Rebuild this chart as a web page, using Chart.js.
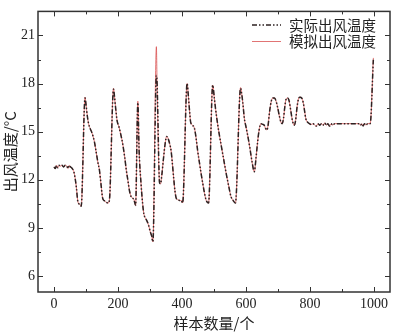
<!DOCTYPE html>
<html lang="zh">
<head>
    <meta charset="UTF-8">
    <title>出风温度对比</title>
    <script src="https://cdn.jsdelivr.net/npm/chart.js"></script>
    <style>
        html, body {
            margin: 0;
            padding: 0;
            background: #fff;
        }
        #chart {
            display: block;
        }
    </style>
</head>
<body>

    <canvas id="chart" width="393" height="333"></canvas>

    <script>
        // 样本序号
        const sampleNo = [
            0, 4, 8, 12, 16, 20, 25, 30, 35, 40, 44, 48, 52, 57, 62, 66, 70, 74, 78, 82, 85,
            97, 100, 104, 108, 113, 119, 126, 132, 137, 142, 147, 152, 157, 163, 169, 173,
            186, 189, 193, 197, 203, 209, 215, 221, 226, 231, 236, 241, 246, 250, 255,
            262, 266, 272, 277, 281, 286, 290, 295, 301, 305, 309,
            320, 322, 330, 333, 337, 342, 347, 352, 357, 362, 366, 370, 374, 378, 382, 388, 394, 398, 402,
            416, 420, 424, 427, 433, 439, 444, 449, 455, 460, 465, 470, 475, 479, 483,
            496, 501, 505, 509, 515, 522, 530, 538, 546, 553, 560, 567,
            583, 587, 590, 595, 600, 605, 612, 619, 626, 631, 636, 641, 647, 652, 657, 661, 665,
            669, 674, 679, 684, 689, 694, 699, 704, 709, 713, 717, 721, 725, 730, 735, 740, 745,
            751, 755, 760, 765, 769, 774, 779, 783, 787, 792, 798,
            804, 810, 815, 820, 825, 830, 836, 841, 846, 851, 856, 861, 866, 871, 877,
            885, 895, 905, 915, 925, 935, 945, 953, 958, 962, 966, 970, 975, 980, 988, 998
        ];

        // 实际出风温度
        const actualTemp = [
            12.8, 12.7, 12.9, 12.75, 12.9, 12.85, 12.9, 12.8, 12.9, 12.85, 12.7, 12.9, 12.8, 12.7, 12.5, 12.1, 11.5, 10.7, 10.5, 10.45, 10.35,
            17.1, 16.7, 16.0, 15.5, 15.2, 14.9, 14.4, 13.7, 13.1, 12.6, 11.7, 10.85, 10.7, 10.6, 10.55, 10.7,
            17.65, 17.2, 16.4, 15.7, 15.3, 14.8, 14.2, 13.4, 12.6, 11.95, 11.3, 10.95, 10.85, 10.75, 10.4,
            16.8, 13.8, 11.75, 10.5, 9.85, 9.6, 9.45, 9.2, 8.75, 8.5, 8.13,
            18.5, 18.1, 11.8, 11.75, 12.3, 13.3, 14.2, 14.7, 14.55, 14.2, 13.8, 13.0, 12.1, 11.3, 10.85, 10.75, 10.7, 10.7, 10.55,
            18.0, 17.2, 16.2, 15.6, 15.4, 15.2, 14.6, 13.8, 13.0, 12.35, 11.76, 11.2, 10.75, 10.6, 10.55,
            17.9, 17.1, 16.4, 15.8, 15.0, 14.2, 13.3, 12.4, 11.6, 10.95, 10.7, 10.55,
            17.7, 17.3, 16.8, 15.8, 15.3, 14.8, 14.0, 13.1, 12.5, 13.3, 14.3, 15.1, 15.5, 15.45, 15.4, 15.2, 15.1,
            15.4, 16.3, 16.9, 17.1, 17.1, 16.9, 16.5, 16.0, 15.6, 15.5, 15.8, 16.5, 17.0, 17.1, 16.9, 16.3, 15.7,
            15.4, 15.7, 16.6, 17.1, 17.15, 17.1, 16.8, 16.3, 15.8, 15.6, 15.5,
            15.45, 15.5, 15.4, 15.35, 15.5, 15.4, 15.5, 15.4, 15.55, 15.4, 15.5, 15.35, 15.5, 15.4, 15.5,
            15.5, 15.5, 15.5, 15.5, 15.5, 15.5, 15.5, 15.5, 15.4, 15.5, 15.35, 15.5, 15.4, 15.5, 15.5, 19.5
        ];

        // 模拟出风温度
        const simTemp = [
            12.8, 12.7, 12.9, 12.75, 12.9, 12.85, 12.9, 12.8, 12.9, 12.85, 12.7, 12.9, 12.8, 12.7, 12.5, 12.1, 11.5, 10.7, 10.5, 10.45, 10.35,
            17.15, 16.7, 16.0, 15.5, 15.2, 14.9, 14.4, 13.7, 13.1, 12.6, 11.7, 10.85, 10.7, 10.6, 10.55, 10.7,
            17.7, 17.2, 16.4, 15.7, 15.3, 14.8, 14.2, 13.4, 12.6, 11.95, 11.3, 10.95, 10.85, 10.75, 10.4,
            16.9, 13.8, 11.75, 10.5, 9.85, 9.6, 9.45, 9.2, 8.75, 8.5, 8.13,
            20.3, 18.1, 11.8, 11.75, 12.3, 13.3, 14.2, 14.7, 14.55, 14.2, 13.8, 13.0, 12.1, 11.3, 10.85, 10.75, 10.7, 10.7, 10.55,
            18.0, 17.2, 16.2, 15.6, 15.4, 15.2, 14.6, 13.8, 13.0, 12.35, 11.76, 11.2, 10.75, 10.6, 10.55,
            17.9, 17.1, 16.4, 15.8, 15.0, 14.2, 13.3, 12.4, 11.6, 10.95, 10.7, 10.55,
            17.75, 17.3, 16.8, 15.8, 15.3, 14.8, 14.0, 13.1, 12.5, 13.3, 14.3, 15.1, 15.5, 15.45, 15.4, 15.2, 15.1,
            15.4, 16.3, 16.9, 17.1, 17.1, 16.9, 16.5, 16.0, 15.6, 15.5, 15.8, 16.5, 17.0, 17.1, 16.9, 16.3, 15.7,
            15.4, 15.7, 16.6, 17.1, 17.15, 17.1, 16.8, 16.3, 15.8, 15.6, 15.5,
            15.45, 15.5, 15.4, 15.35, 15.5, 15.4, 15.5, 15.4, 15.55, 15.4, 15.5, 15.35, 15.5, 15.4, 15.5,
            15.5, 15.5, 15.5, 15.5, 15.5, 15.5, 15.5, 15.5, 15.4, 15.5, 15.35, 15.5, 15.4, 15.5, 15.5, 19.6
        ];

        // 刻度
        const xMajor = [0, 200, 400, 600, 800, 1000];
        const xMinor = [100, 300, 500, 700, 900];
        const yMajor = [6, 9, 12, 15, 18, 21];
        const yMinor = [7.5, 10.5, 13.5, 16.5, 19.5];

        const labelFont = '"Times New Roman", "Liberation Serif", serif';
        const cjkFont = '"Noto Sans CJK SC", "Liberation Serif", sans-serif';
        const axisColor = '#333';

        // 边框 + 内向刻度 + 图例
        const framePlugin = {
            id: 'frame',
            afterDraw(chart) {
                const ctx = chart.ctx;
                const a = chart.chartArea;
                const xs = chart.scales.x, ys = chart.scales.y;
                ctx.save();
                ctx.strokeStyle = axisColor;
                ctx.lineWidth = 1.5;
                ctx.strokeRect(a.left, a.top, a.right - a.left, a.bottom - a.top);

                ctx.lineWidth = 1;
                ctx.beginPath();
                const tickX = (vals, len) => vals.forEach(v => {
                    const px = Math.round(xs.getPixelForValue(v)) + 0.5;
                    ctx.moveTo(px, a.bottom); ctx.lineTo(px, a.bottom - len);
                    ctx.moveTo(px, a.top); ctx.lineTo(px, a.top + len);
                });
                const tickY = (vals, len) => vals.forEach(v => {
                    const py = Math.round(ys.getPixelForValue(v)) + 0.5;
                    ctx.moveTo(a.left, py); ctx.lineTo(a.left + len, py);
                    ctx.moveTo(a.right, py); ctx.lineTo(a.right - len, py);
                });
                tickX(xMajor, 5); tickX(xMinor, 3);
                tickY(yMajor, 5); tickY(yMinor, 3);
                ctx.stroke();

                // 图例
                const rows = [25, 41.5];
                chart.data.datasets.forEach((ds, i) => {
                    const y = rows[i];
                    ctx.beginPath();
                    ctx.strokeStyle = ds.borderColor;
                    ctx.lineWidth = ds.borderWidth;
                    ctx.setLineDash(ds.borderDash || []);
                    ctx.moveTo(252, y); ctx.lineTo(281, y);
                    ctx.stroke();
                    ctx.setLineDash([]);
                    ctx.fillStyle = '#222';
                    ctx.font = '14.5px ' + cjkFont;
                    ctx.textBaseline = 'middle';
                    ctx.fillText(ds.label, 289, y);
                });
                ctx.restore();
            }
        };

        const toPoints = vals => sampleNo.map((x, i) => ({ x: x, y: vals[i] }));

        new Chart(document.getElementById('chart').getContext('2d'), {
            type: 'line',
            data: {
                datasets: [
                    {
                        label: '实际出风温度',
                        data: toPoints(actualTemp),
                        borderColor: '#2e2222',
                        borderWidth: 1.5,
                        borderDash: [5, 2, 1.5, 2, 1.5, 2],
                        pointRadius: 0,
                        fill: false,
                        cubicInterpolationMode: 'monotone'
                    },
                    {
                        label: '模拟出风温度',
                        data: toPoints(simTemp),
                        borderColor: 'rgba(215, 70, 70, 0.75)',
                        borderWidth: 1,
                        pointRadius: 0,
                        fill: false,
                        cubicInterpolationMode: 'monotone'
                    }
                ]
            },
            options: {
                responsive: false,
                animation: false,
                layout: { padding: { top: 2, right: 3, left: 0, bottom: 0 } },
                plugins: {
                    legend: { display: false },
                    tooltip: { enabled: false }
                },
                scales: {
                    x: {
                        type: 'linear',
                        min: -50,
                        max: 1050,
                        afterBuildTicks: s => { s.ticks = xMajor.map(v => ({ value: v })); },
                        afterFit: s => { s.height = 41; },
                        grid: { display: false, drawTicks: false },
                        border: { display: false },
                        ticks: {
                            color: '#222',
                            font: { family: labelFont, size: 14 },
                            padding: 4,
                            maxRotation: 0,
                            autoSkip: false,
                            callback: v => String(v)
                        },
                        title: {
                            display: true,
                            text: '样本数量/个',
                            color: '#222',
                            font: { family: cjkFont, size: 15 },
                            padding: { top: 0, bottom: 1 }
                        }
                    },
                    y: {
                        min: 5,
                        max: 22.5,
                        afterBuildTicks: s => { s.ticks = yMajor.map(v => ({ value: v })); },
                        afterFit: s => { s.width = 38; },
                        grid: { display: false, drawTicks: false },
                        border: { display: false },
                        ticks: {
                            color: '#222',
                            font: { family: labelFont, size: 14 },
                            padding: 3,
                            autoSkip: false,
                            callback: v => String(v)
                        },
                        title: {
                            display: true,
                            text: '出风温度/°C',
                            color: '#222',
                            font: { family: cjkFont, size: 15 },
                            padding: { top: 1, bottom: 0 }
                        }
                    }
                }
            },
            plugins: [framePlugin]
        });
    </script>

</body>
</html>
